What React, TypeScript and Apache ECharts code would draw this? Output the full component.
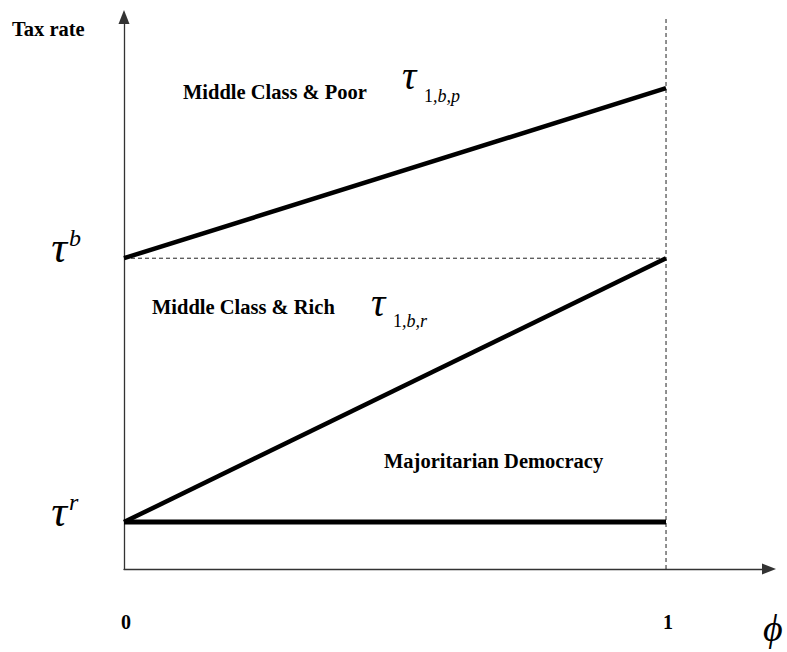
import React, { useEffect, useRef } from "react";
import * as echarts from "echarts";

// ---- data ----
const X_MAX = 1.19;
const Y_MAX = 1;
const tauR = 0.085;
const tauB = 0.563;
const tauPoorEnd = 0.871;
const xTickValues = [0, 1];
const xTickLabels = ["0", "1"];
const poorLine = [
  [0, tauB],
  [1, tauPoorEnd],
];
const richLine = [
  [0, tauR],
  [1, tauB],
];
const majoritarianLine = [
  [0, tauR],
  [1, tauR],
];
const tauBGuide = [
  [0, tauB],
  [1, tauB],
];
const phiOneGuide = [
  [1, 0],
  [1, Y_MAX],
];

const SERIF = "Liberation Serif";

export default function App() {
  const ref = useRef<HTMLDivElement>(null);

  useEffect(() => {
    if (!ref.current) return;
    const chart = echarts.init(ref.current, undefined, { renderer: "svg" });

    const dashed = {
      color: "#222",
      width: 1,
      type: [4, 3] as any,
    };

    chart.setOption({
      animation: false,
      backgroundColor: "#fff",
      grid: { left: 124, right: 18, top: 17, bottom: 83, containLabel: false },
      xAxis: {
        type: "value",
        min: 0,
        max: X_MAX,
        interval: 1,
        axisLine: {
          show: true,
          symbol: ["none", "triangle"],
          symbolSize: [11, 14],
          lineStyle: { color: "#333", width: 1.3 },
        },
        axisTick: { show: false },
        splitLine: { show: false },
        axisLabel: {
          margin: 43,
          color: "#000",
          fontFamily: SERIF,
          fontWeight: "bold",
          fontSize: 20,
          padding: [0, 0, 0, 4],
          showMaxLabel: false,
          formatter: (v: number) => {
            const i = xTickValues.indexOf(v);
            return i >= 0 ? xTickLabels[i] : "";
          },
        },
      },
      yAxis: {
        type: "value",
        min: 0,
        max: Y_MAX,
        axisLine: {
          show: true,
          symbol: ["none", "triangle"],
          symbolSize: [11, 14],
          lineStyle: { color: "#333", width: 1.3 },
        },
        axisTick: { show: false },
        splitLine: { show: false },
        axisLabel: { show: false },
      },
      series: [
        {
          type: "line",
          data: tauBGuide,
          symbol: "none",
          lineStyle: dashed,
          silent: true,
          clip: false,
        },
        {
          type: "line",
          data: phiOneGuide,
          symbol: "none",
          lineStyle: dashed,
          silent: true,
          clip: false,
        },
        {
          type: "line",
          data: poorLine,
          symbol: "none",
          lineStyle: { color: "#000", width: 4.5 },
          clip: false,
        },
        {
          type: "line",
          data: richLine,
          symbol: "none",
          lineStyle: { color: "#000", width: 4.5 },
          clip: false,
        },
        {
          type: "line",
          data: majoritarianLine,
          symbol: "none",
          lineStyle: { color: "#000", width: 5 },
          clip: false,
        },
      ],
    });

    const pB = chart.convertToPixel({ gridIndex: 0 }, [0, tauB]) as number[];
    const pR = chart.convertToPixel({ gridIndex: 0 }, [0, tauR]) as number[];
    const axisX = pB[0];

    const bold = (text: string, x: number, y: number) => ({
      type: "text",
      x,
      y,
      style: {
        text,
        fill: "#000",
        fontFamily: SERIF,
        fontWeight: "bold",
        fontSize: 20.5,
        align: "left",
        verticalAlign: "middle",
      },
    });
    const ital = (
      text: string,
      x: number,
      y: number,
      size: number,
      align = "left",
      italic = true
    ) => ({
      type: "text",
      x,
      y,
      style: {
        text,
        fill: "#000",
        fontFamily: SERIF,
        fontStyle: italic ? "italic" : "normal",
        fontSize: size,
        align,
        verticalAlign: "middle",
      },
    });

    chart.setOption({
      graphic: [
        bold("Tax rate", 12, 29),
        bold("Middle Class & Poor", 183, 92),
        ital("τ", 402, 75, 40),
        ital("1", 424, 96, 18, "left", false),
        ital(",b,p", 433, 96, 18),
        bold("Middle Class & Rich", 152, 307),
        ital("τ", 371, 302, 40),
        ital("1", 393, 321, 18, "left", false),
        ital(",b,r", 402, 321, 18),
        bold("Majoritarian Democracy", 384, 461),
        ital("ϕ", 763, 628, 38),
        ital("τ", axisX - 57, pB[1] - 11, 44, "right"),
        ital("b", axisX - 55, pB[1] - 20, 24),
        ital("τ", axisX - 57, pR[1] - 11, 44, "right"),
        ital("r", axisX - 55, pR[1] - 20, 24),
      ],
    });

    return () => chart.dispose();
  }, []);

  return (
    <div
      ref={ref}
      style={{
        position: "fixed",
        left: 0,
        top: 0,
        width: 787,
        height: 652,
        background: "#fff",
      }}
    />
  );
}
